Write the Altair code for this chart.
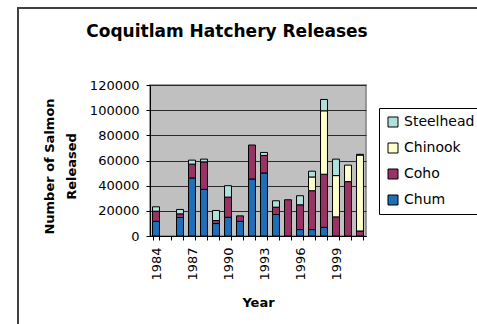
import altair as alt
import pandas as pd

# Coquitlam hatchery releases by species and year
years = [str(y) for y in range(1984, 2002)]
chum      = [11700, 0, 14700, 46100, 37100, 9900, 14900, 11700, 45300, 50100, 17100, 0, 5100, 5100, 6900, 0, 0, 0]
coho      = [8000, 0, 2900, 11000, 21800, 2400, 16000, 4300, 27000, 13900, 5800, 28800, 19700, 30900, 42200, 15200, 43200, 4000]
chinook   = [0, 0, 0, 0, 0, 0, 0, 0, 0, 0, 0, 0, 0, 10900, 50400, 32800, 13100, 60300]
steelhead = [3500, 0, 3500, 3200, 2200, 8000, 9100, 0, 0, 2400, 5100, 0, 7200, 4600, 9000, 13100, 0, 600]

stack_order = ["Chum", "Coho", "Chinook", "Steelhead"]
legend_order = ["Steelhead", "Chinook", "Coho", "Chum"]
legend_colors = ["#B0E0DC", "#FFFFCC", "#993366", "#1F6EB8"]
y_ticks = [0, 20000, 40000, 60000, 80000, 100000, 120000]

series = dict(zip(stack_order, [chum, coho, chinook, steelhead]))
rows = []
for i, yr in enumerate(years):
    for k, name in enumerate(stack_order):
        v = series[name][i]
        if v > 0:
            rows.append({"Year": yr, "Species": name, "Released": v, "stack": k})
df = pd.DataFrame(rows)

FONT = "DejaVu Sans"
W, H = 216, 151

bars = alt.Chart(df).mark_bar(stroke="black", strokeWidth=1).encode(
    x=alt.X(
        "Year:O",
        scale=alt.Scale(domain=years, paddingInner=0.42, paddingOuter=0.21),
        axis=alt.Axis(
            title="Year",
            labelAngle=-90,
            labelExpr="(toNumber(datum.value) - 1984) % 3 == 0 ? datum.value : ''",
            labelFont=FONT, labelFontSize=13, labelColor="black",
            labelPadding=7, tickSize=4, tickColor="black", tickBand="extent",
            domainColor="black", grid=False,
            titleFont=FONT, titleFontSize=13, titleFontWeight="bold", titleColor="black",
            titleX=W / 2, titleY=70, titleBaseline="alphabetic", titleAlign="center",
        ),
    ),
    y=alt.Y(
        "Released:Q",
        stack="zero",
        scale=alt.Scale(domain=[0, 120000], nice=False),
        axis=alt.Axis(
            title=["Number of Salmon", "Released"],
            values=y_ticks, format="d",
            labelFont=FONT, labelFontSize=13, labelColor="black", labelPadding=7,
            tickSize=4, tickColor="black", domainColor="black",
            grid=True, gridColor="#2a2a2a", gridWidth=1,
            titleFont=FONT, titleFontSize=13, titleFontWeight="bold", titleColor="black",
            titleAngle=270, titleX=-94, titleY=81, titleAlign="center",
            titleBaseline="bottom", titleLineHeight=22,
        ),
    ),
    color=alt.Color(
        "Species:N",
        scale=alt.Scale(domain=legend_order, range=legend_colors),
        legend=alt.Legend(
            title=None, orient="none", legendX=229, legendY=23,
            strokeColor="black", fillColor="white", padding=7,
            symbolType="square", symbolSize=100, symbolStrokeColor="black",
            symbolStrokeWidth=1, labelFont=FONT, labelFontSize=14,
            labelColor="black", labelOffset=4, rowPadding=12,
        ),
    ),
    order=alt.Order("stack:Q", sort="ascending"),
)

one = pd.DataFrame({"k": [0]})

title = alt.Chart(one).mark_text(
    text="Coquitlam Hatchery Releases", font=FONT, fontSize=17, fontWeight="bold",
    color="black", align="center", baseline="alphabetic",
).encode(x=alt.value(77), y=alt.value(-48))

# outer chart-area frame (left and top edges)
frame_left = alt.Chart(one).mark_rule(color="#404040", strokeWidth=2).encode(
    x=alt.value(-132), y=alt.value(-78), y2=alt.value(245)
)
frame_top = alt.Chart(one).mark_rule(color="#404040", strokeWidth=2).encode(
    x=alt.value(-133), x2=alt.value(330), y=alt.value(-77)
)

chart = alt.layer(bars, title, frame_left, frame_top).properties(
    width=W, height=H,
    autosize=alt.AutoSizeParams(type="none"),
    padding={"left": 150, "top": 85, "right": 111, "bottom": 88},
    background="white",
).configure_view(fill="#C0C0C0", stroke="#808080", strokeWidth=1.5)

chart.save("out.html", embed_options={"renderer": "svg", "actions": False})
